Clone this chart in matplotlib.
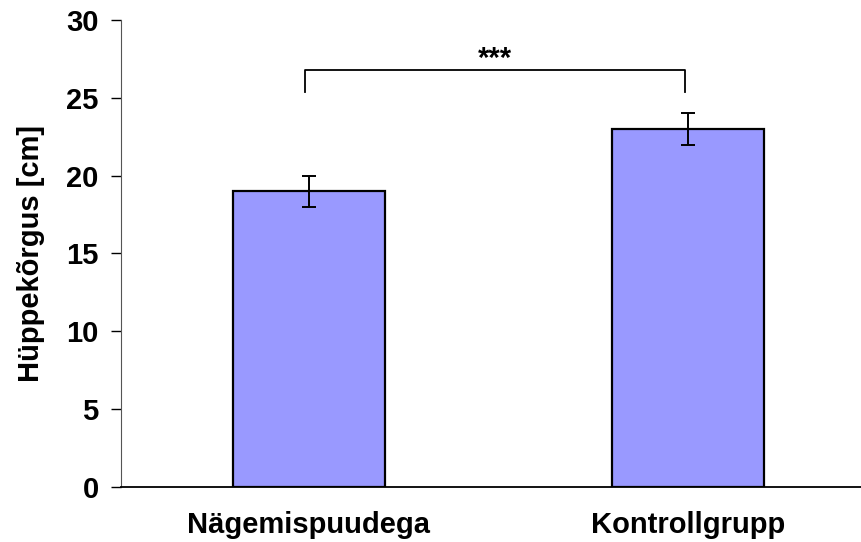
import matplotlib.pyplot as plt

plt.rcParams['font.family'] = ['Liberation Sans', 'DejaVu Sans']
plt.rcParams['font.weight'] = 'bold'

# andmed
groups = ["Nägemispuudega", "Kontrollgrupp"]
heights = [19, 23]
errors = [1, 1]
y_ticks = [0, 5, 10, 15, 20, 25, 30]
signif = "***"

fig = plt.figure(figsize=(8.61, 5.42), dpi=100)
ax = fig.add_axes([0.1405, 0.1015, 0.8595, 0.8616])

x = list(range(len(groups)))
ax.bar(x, heights, width=0.4, color="#9999ff", edgecolor="black", linewidth=1.6, zorder=2)
ax.errorbar(x, heights, yerr=errors, fmt="none", ecolor="black",
            elinewidth=1.4, capsize=5.2, capthick=1.4, zorder=3)

# olulisuse klamber
ax.plot([-0.01, -0.01, 0.99, 0.99], [25.4, 26.8, 26.8, 25.4], color="black", lw=1.3)
ax.text(0.49, 27.0, signif, ha="center", va="baseline", fontsize=21, fontweight="bold")

ax.set_xlim(-0.495, 1.455)
ax.set_ylim(0, 30)
ax.set_yticks(y_ticks)
ax.set_xticks(x)
ax.set_xticklabels(groups, fontsize=21, fontweight="bold")
ax.tick_params(axis="x", length=0, pad=17)
ax.tick_params(axis="y", labelsize=21, length=7, width=1, pad=9)
for lbl in ax.get_yticklabels():
    lbl.set_fontweight("bold")

ax.set_ylabel("Hüppekõrgus [cm]", fontsize=21, fontweight="bold")
ax.yaxis.set_label_coords(-0.102, 0.5)

ax.spines["top"].set_visible(False)
ax.spines["right"].set_visible(False)
ax.spines["left"].set_color("#555555")
ax.spines["bottom"].set_linewidth(1.3)

fig.savefig("out.png", dpi=100)
